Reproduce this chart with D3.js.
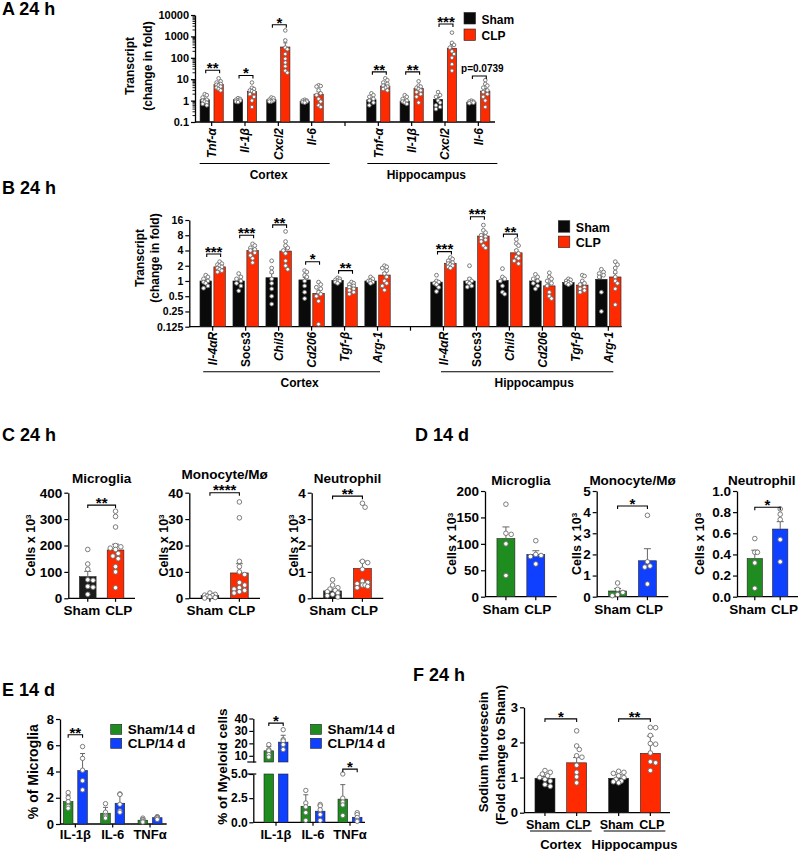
<!DOCTYPE html>
<html><head><meta charset="utf-8">
<script src="https://cdn.jsdelivr.net/npm/d3@7"></script>
<style>body{margin:0;background:#fff} text{font-family:'Liberation Sans',Arial,sans-serif;font-weight:bold}</style>
</head><body><svg id="c" width="800" height="851"></svg>
<script>
// ================= DATA =================
const groups = ["Sham","CLP"];
const regions = ["Cortex","Hippocampus"];

// ---- Panel A (24 h, log10) ----
const aGenes = ["Tnf-α","Il-1β","Cxcl2","Il-6"];
const aTicks = [0.1,1,10,100,1000,10000];
const aShamCortexMean = [1.1,1.1,1.1,0.9];
const aClpCortexMean  = [5.8,2.7,320,2.0];
const aShamCortexErr  = [0.18,0.06,0.07,0.04];
const aClpCortexErr   = [0.8,0.6,180,0.6];
const aShamHippoMean  = [1.1,0.95,1.15,0.85];
const aClpHippoMean   = [4.8,3.7,280,2.8];
const aShamHippoErr   = [0.2,0.12,0.25,0.03];
const aClpHippoErr    = [0.8,0.6,140,0.8];
const aShamCortexPts = [[2.0,1.8,1.4,1.1,1.0,0.9,0.8,0.7,0.6],[1.3,1.2,1.1,1.0,1.0,0.9,0.85],[1.4,1.3,1.1,1.0,0.9,0.9],[1.1,1.0,1.0,0.9,0.9,0.85,0.8]];
const aClpCortexPts  = [[11,8,7,6,5.5,5,4.5,4,3.5,3],[7,4,3.5,3,2.8,2.5,2,1.5,1,0.5],[1900,650,300,250,150,90,60,40,25,20],[5.2,4.8,4.5,3,2.2,1.8,1.2,0.9,0.6,0.5]];
const aShamHippoPts  = [[2.2,1.8,1.5,1.2,1.0,0.8,0.6],[1.8,1.5,1.2,1.0,0.9,0.8,0.7],[2.5,1.8,1.5,1.0,0.8,0.6,0.5,0.4],[1.0,0.9,0.9,0.85,0.8,0.75]];
const aClpHippoPts   = [[11,9,7,6,5,4.5,4,3.5,3],[8,5,4.5,4,3.5,3,2.5,2,1.5,0.8],[1500,500,400,300,200,150,100,50,25],[9,6,5,4,3,2.5,2,1.5,1,0.5]];
const aSigCortex = ["**","*","*",""];
const aBracketCortex = [26,15,3500,null];
const aSigHippo = ["**","**","***","p=0.0739"];
const aBracketHippo = [22,22,3800,14];

// ---- Panel B (24 h, log2) ----
const bGenes = ["Il-4αR","Socs3","Chil3","Cd206","Tgf-β","Arg-1"];
const bItalic = [true,false,true,true,true,true];
const bTicks = [0.125,0.25,0.5,1,2,4,8,16];
const bShamCortexMean = [1.0,1.0,1.16,1.05,1.03,1.0];
const bClpCortexMean  = [1.9,4.0,3.9,0.57,0.74,1.31];
const bShamCortexErr  = [0.07,0.08,0.25,0.13,0.04,0.05];
const bClpCortexErr   = [0.1,0.35,0.8,0.09,0.03,0.15];
const bShamHippoMean  = [0.95,1.0,1.03,1.0,0.93,1.08];
const bClpHippoMean   = [2.24,7.7,3.6,0.8,0.83,1.2];
const bShamHippoErr   = [0.07,0.15,0.13,0.07,0.03,0.18];
const bClpHippoErr    = [0.12,0.8,0.5,0.1,0.08,0.2];
const bShamCortexPts = [[1.3,1.2,1.1,1.0,0.95,0.9,0.8,0.72],[1.4,1.2,1.1,1.0,0.9,0.8,0.64],[2.5,1.8,1.5,1.1,0.9,0.7,0.5,0.35],[1.6,1.5,1.3,1.2,1.0,0.8,0.6,0.45],[1.15,1.1,1.05,1.0,1.0,0.95,0.9],[1.2,1.1,1.0,1.0,0.95,0.9]];
const bClpCortexPts  = [[2.4,2.2,2.1,2.0,1.9,1.8,1.7,1.6,1.5],[5.4,5,4.5,4.2,4,3.6,3.2,2.8,2.3],[9.5,6,5,4.5,4,3.5,2.5,2,1.7],[0.95,0.85,0.75,0.7,0.6,0.55,0.5,0.4,0.14],[0.95,0.9,0.85,0.8,0.75,0.7,0.65,0.6,0.55],[2.0,1.9,1.8,1.6,1.4,1.2,1.0,0.9,0.8,0.66]];
const bShamHippoPts  = [[1.3,1.0,0.95,0.9,0.85,0.75,0.62],[2.0,1.1,1.0,0.95,0.9,0.8,0.76],[1.75,1.2,1.1,1.0,0.8,0.6,0.55],[1.35,1.2,1.1,1.0,0.9,0.8,0.7],[1.1,1.05,1.0,0.95,0.9,0.9,0.85],[1.7,1.5,1.4,1.3,1.2,0.6,0.25]];
const bClpHippoPts   = [[2.9,2.7,2.5,2.3,2.2,2.1,2.0,1.9,1.8],[12.7,10,9,8,7.5,7,6.5,6,5,4.5],[6.6,5.5,5,4,3.5,3,2.8,2.5,2.2],[1.45,1.2,1.1,1.0,0.9,0.8,0.6,0.5,0.45],[1.3,1.25,1.0,0.9,0.85,0.75,0.7,0.65,0.6],[2.4,2.1,1.8,1.5,1.2,1.0,0.9,0.7,0.34]];
const bSigCortex = ["***","***","**","*","**",""];
const bBracketCortex = [3.4,8,12.8,2.4,1.6,null];
const bSigHippo = ["***","***","**","","",""];
const bBracketHippo = [3.8,18.6,8.4,null,null,null];

// ---- Panel C (24 h cell counts) ----
const cTitles = ["Microglia","Monocyte/Mø","Neutrophil"];
const cMax = [400,40,4];
const cTickStep = [100,10,1];
const cMeans = [[82,183],[1.0,9.6],[0.28,1.13]];
const cErrs = [[20,22],[0.3,3.5],[0.07,0.28]];
const cShamPts = [[185,130,110,70,68,45,42,15],[2,1.5,1.2,1,0.8,0.5,0.3,0.1],[0.7,0.5,0.4,0.35,0.3,0.25,0.2,0.15,0.1,0.05]];
const cClpPts = [[330,310,270,200,195,190,185,170,160,150,120,100,40],[36.5,30.5,14,12,10,9,6,5,4,3.5,3,2.5,2],[3.6,3.45,1.4,1.35,1.1,0.65,0.6,0.55,0.5,0.5,0.45,0.4]];
const cSig = ["**","****","**"];
const cBracket = [353,40,3.87];

// ---- Panel D (14 d cell counts) ----
const dTitles = ["Microglia","Monocyte/Mø","Neutrophil"];
const dMax = [200,5,1];
const dTickStep = [50,1,0.2];
const dMeans = [[110,80],[0.27,1.7],[0.36,0.64]];
const dErrs = [[22,7],[0.12,0.57],[0.08,0.07]];
const dShamPts = [[175,120,118,100,40],[0.65,0.35,0.2,0.1,0.05],[0.55,0.42,0.42,0.32,0.08]];
const dClpPts = [[106,80,78,76,62],[3.85,1.65,1.45,1.4,0.6],[0.83,0.78,0.73,0.54,0.33]];
const dSig = ["","*","*"];
const dBracket = [null,4.29,0.846];

// ---- Panel E (14 d cytokine+ cells) ----
const eCytokines = ["IL-1β","IL-6","TNFα"];
const eGroups = ["Sham/14 d","CLP/14 d"];
const e1ShamMean = [1.7,0.82,0.29];
const e1ClpMean  = [4.07,1.58,0.48];
const e1ShamErr  = [0.5,0.45,0.12];
const e1ClpErr   = [1.3,0.7,0.1];
const e1ShamPts = [[2.4,2.0,1.7,1.35,1.2],[1.55,0.9,0.65,0.55,0.45],[0.45,0.35,0.3,0.2,0.15]];
const e1ClpPts  = [[5.9,5.0,4.1,3.3,2.6],[2.3,2.25,1.5,1.0,0.9],[0.55,0.55,0.5,0.45,0.35]];
const e1Sig = ["**","",""];
const e1Bracket = [6.8,null,null];
const e2ShamMean = [14,1.65,2.4];
const e2ClpMean  = [21,1.15,0.52];
const e2ShamErr  = [3.5,1.2,1.5];
const e2ClpErr   = [5.5,0.6,0.35];
const e2ShamPts = [[19,15,14,11,9],[3.3,2.0,1.6,1.0,0.2],[5.0,2.5,2.1,1.8,0.7]];
const e2ClpPts  = [[31,23,22,19,15],[1.85,1.7,1.3,0.8,0.2],[1.0,0.8,0.5,0.2,0.1]];
const e2Sig = ["*","","*"];
const e2Bracket = [36.3,null,5.5];

// ---- Panel F (24 h sodium fluorescein) ----
const fMeans = [[0.98,1.42],[0.98,1.69]];
const fErrs = [[0.05,0.15],[0.1,0.49]];
const fShamPts = [[1.2,1.15,1.1,1.05,1.0,0.95,0.9,0.8,0.75],[1.18,1.15,1.12,1.05,1.0,0.95,0.9,0.88,0.85]];
const fClpPts  = [[2.33,1.9,1.8,1.62,1.58,1.35,1.15,1.02,0.85],[2.43,2.42,2.2,1.97,1.95,1.7,1.45,1.42,1.2]];
const fSig = ["*","**"];
const fBracket = [2.67,2.67];

// ================= STYLE / HELPERS =================
const BLACK="#0a0a0a", RED="#ff2a00", GREEN="#1f8c1f", BLUE="#1040ff";
const svg = d3.select("#c");

function text(g,x,y,s,o={}){
  const t=g.append("text").attr("x",x).attr("y",y).text(s)
    .attr("font-size",o.fs||12).attr("text-anchor",o.anchor||"start").attr("fill","#000");
  if(o.italic) t.attr("font-style","italic");
  if(o.rot) t.attr("transform",`rotate(${o.rot},${x},${y})`);
  if(o.dy) t.attr("dy",o.dy);
  return t;
}
function styleAxis(a,fs){
  a.attr("font-family",null).attr("font-size",null);
  a.selectAll("text").attr("font-size",fs).attr("font-weight","bold").attr("fill","#000");
  a.selectAll(".tick line").attr("stroke","#000").attr("stroke-width",1.2);
  a.select(".domain").attr("stroke","#000").attr("stroke-width",1.3);
}
function hline(g,x1,x2,y,w=1.3){g.append("line").attr("x1",x1).attr("x2",x2).attr("y1",y).attr("y2",y).attr("stroke","#000").attr("stroke-width",w);}
function vline(g,x,y1,y2,w=1.3,c="#000"){g.append("line").attr("x1",x).attr("x2",x).attr("y1",y1).attr("y2",y2).attr("stroke",c).attr("stroke-width",w);}
function rect(g,x,w,y1,y2,fill){
  g.append("rect").attr("x",x).attr("width",w).attr("y",Math.min(y1,y2)).attr("height",Math.abs(y2-y1))
   .attr("fill",fill).attr("stroke","#222").attr("stroke-width",0.6);
}
function errUp(g,cx,yMean,yTop,cap){
  vline(g,cx,yMean,yTop,1,"#666");
  g.append("line").attr("x1",cx-cap/2).attr("x2",cx+cap/2).attr("y1",yTop).attr("y2",yTop).attr("stroke","#666").attr("stroke-width",1);
}
function bracket(g,x1,x2,y,label,fs){
  g.append("path").attr("d",`M${x1},${y+3}V${y}H${x2}V${y+3}`).attr("fill","none").attr("stroke","#000").attr("stroke-width",1.1);
  if(label.startsWith("p")) text(g,(x1+x2)/2+3,y-4,label,{fs:10,anchor:"middle"});
  else text(g,(x1+x2)/2,y+2+fs*0.05,label,{fs:fs,anchor:"middle"});
}
// deterministic beeswarm placement of the points inside a bar
function swarm(vals,yf,cx,half,r){
  const pts=vals.map(v=>({v,y:yf(v)})).sort((a,b)=>a.y-b.y);
  const step=r*1.15, cands=[0];
  for(let k=1;k*step<=half;k++){cands.push(k*step,-k*step);}
  const placed=[];
  pts.forEach(p=>{
    let best=cx,bestD=-1;
    for(const o of cands){
      const x=cx+o; let md=Infinity;
      for(const q of placed){const d=Math.hypot(q.x-x,q.y-p.y); if(d<md) md=d;}
      if(md>=2*r*0.95){best=x;bestD=md;break;}
      if(md>bestD){bestD=md;best=x;}
    }
    p.x=best; placed.push(p);
  });
  return placed;
}
function dots(g,vals,yf,cx,half,r){
  swarm(vals,yf,cx,half,r).forEach(p=>{
    g.append("circle").attr("cx",p.x).attr("cy",p.y).attr("r",r)
     .attr("fill","#fff").attr("stroke","#6e6e6e").attr("stroke-width",0.9);
  });
}
function legend(g,x,y,labels,colors,fs,sq,gap){
  labels.forEach((l,i)=>{
    g.append("rect").attr("x",x).attr("y",y+i*gap).attr("width",sq[0]).attr("height",sq[1]).attr("fill",colors[i]).attr("stroke","#222").attr("stroke-width",0.6);
    text(g,x+sq[0]+6,y+i*gap+sq[1]-0.5,l,{fs});
  });
}

// ================= PANEL TITLES =================
text(svg,2,15,"A 24 h",{fs:18});
text(svg,2,194,"B 24 h",{fs:18});
text(svg,2,441,"C 24 h",{fs:18});
text(svg,415,441,"D 14 d",{fs:18});
text(svg,2,696,"E 14 d",{fs:18});
text(svg,413,681,"F 24 h",{fs:18});

// ================= GENE PANELS (A, B) =================
function genePanel(c){
  const g=svg.append("g");
  const y=c.y;
  const slots=[...c.genes.map(d=>"C|"+d),"gap",...c.genes.map(d=>"H|"+d)];
  const x=d3.scaleBand().domain(slots).range(c.xr);
  const bw=x.bandwidth();
  const ax=g.append("g").attr("transform",`translate(${c.axX},0)`)
    .call(d3.axisLeft(y).tickValues(c.ticks).tickFormat(c.fmt).tickSize(4).tickSizeOuter(0).tickPadding(2));
  styleAxis(ax,c.tfs);
  if(c.minor){
    c.ticks.slice(0,-1).forEach(d=>{for(let k=2;k<=9;k++){const yy=y(d*k); hline(g,c.axX-2.5,c.axX,yy,0.9);}});
  }
  hline(g,c.axX,c.axEnd,c.base);
  vline(g,x("gap")+bw/2,c.base,c.base+4,1.2);
  const data=[c.cortex,c.hippo];
  data.forEach((R,ri)=>{
    const key=ri===0?"C|":"H|";
    c.genes.forEach((gn,i)=>{
      const cx=x(key+gn)+bw/2;
      const sx=cx-c.o2, kx=cx+c.o1, w=c.o2-c.o1;
      rect(g,sx,w,y(R.sham[i]),c.base,BLACK);
      rect(g,kx,w,y(R.clp[i]),c.base,RED);
      errUp(g,sx+w/2,y(R.sham[i]),y(R.sham[i]+R.shamErr[i]),4);
      errUp(g,kx+w/2,y(R.clp[i]),y(R.clp[i]+R.clpErr[i]),4);
      dots(g,R.shamPts[i],y,sx+w/2,w/2-c.r,c.r);
      dots(g,R.clpPts[i],y,kx+w/2,w/2-c.r,c.r);
      if(R.sig[i]) bracket(g,sx+w/2+1,kx+w/2+1,y(R.br[i]),R.sig[i],15);
      vline(g,cx,c.base,c.base+4,1.2);
      text(g,cx,c.base+c.labOff,gn,{fs:12,anchor:"end",rot:-90,italic:c.italic?c.italic[i]:true,dy:"0.36em"});
    });
    const first=x(key+c.genes[0])+bw/2, last=x(key+c.genes[c.genes.length-1])+bw/2;
    const u=c.under[ri];
    hline(g,first+u[0],last+u[1],c.underY,1.1);
    text(g,(first+u[0]+last+u[1])/2+u[2],c.underY+15,regions[ri],{fs:12,anchor:"middle"});
  });
  text(g,c.yl[0],c.yl[2],"Transcript",{fs:12,anchor:"middle",rot:-90,dy:"0.36em"});
  text(g,c.yl[1],c.yl[2],"(change in fold)",{fs:12,anchor:"middle",rot:-90,dy:"0.36em"});
  legend(g,c.leg[0],c.leg[1],groups,[BLACK,RED],c.legFs,[11.5,11.5],c.leg[2]);
}

genePanel({
  genes:aGenes, y:d3.scaleLog().domain([0.1,10000]).range([122,15]), ticks:aTicks,
  fmt:d=>d3.format("~g")(d), tfs:11, minor:true,
  xr:[195,495], axX:195, axEnd:495, base:122, o1:2.3, o2:11.6, r:1.8, labOff:6,
  under:[[-12,18,4],[-11,19,-6]], underY:163.5, yl:[130,148,66],
  leg:[464,12.5,16.5], legFs:12,
  cortex:{sham:aShamCortexMean,clp:aClpCortexMean,shamErr:aShamCortexErr,clpErr:aClpCortexErr,shamPts:aShamCortexPts,clpPts:aClpCortexPts,sig:aSigCortex,br:aBracketCortex},
  hippo:{sham:aShamHippoMean,clp:aClpHippoMean,shamErr:aShamHippoErr,clpErr:aClpHippoErr,shamPts:aShamHippoPts,clpPts:aClpHippoPts,sig:aSigHippo,br:aBracketHippo}
});
genePanel({
  genes:bGenes, italic:bItalic, y:d3.scaleLog().base(2).domain([0.125,16]).range([326.7,220]), ticks:bTicks,
  fmt:d=>String(d), tfs:10.5, minor:false,
  xr:[196.2,624.8], axX:189.3, axEnd:621.7, base:326.7, o1:1.2, o2:12.7, r:1.9, labOff:5,
  under:[[-9.5,2.5,8],[-2.5,5,7]], underY:371.7, yl:[140,155,258],
  leg:[558.3,220.7,15.4], legFs:12.5,
  cortex:{sham:bShamCortexMean,clp:bClpCortexMean,shamErr:bShamCortexErr,clpErr:bClpCortexErr,shamPts:bShamCortexPts,clpPts:bClpCortexPts,sig:bSigCortex,br:bBracketCortex},
  hippo:{sham:bShamHippoMean,clp:bClpHippoMean,shamErr:bShamHippoErr,clpErr:bClpHippoErr,shamPts:bShamHippoPts,clpPts:bClpHippoPts,sig:bSigHippo,br:bBracketHippo}
});

// ================= CELL PANELS (C, D) =================
function cellPlot(c){
  const g=svg.append("g");
  const y=d3.scaleLinear().domain([0,c.max]).range([c.y0,c.yTop]);
  const x=d3.scaleBand().domain(groups).range([c.x0,c.x1]).paddingInner(0.4).paddingOuter(0.4);
  const bw=x.bandwidth();
  const ticks=d3.range(0,c.max+c.step/2,c.step);
  const ax=g.append("g").attr("transform",`translate(${c.x0},0)`)
    .call(d3.axisLeft(y).tickValues(ticks).tickFormat(c.fmt).tickSize(4).tickSizeOuter(0).tickPadding(2));
  styleAxis(ax,13.5);
  hline(g,c.x0,c.x1,c.y0);
  groups.forEach((gr,i)=>{
    const cx=x(gr)+bw/2;
    rect(g,x(gr),bw,y(c.means[i]),c.y0,c.colors[i]);
    errUp(g,cx,y(c.means[i]),y(c.means[i]+c.errs[i]),7);
    dots(g,c.pts[i],y,cx,bw/2-2.4,2.3);
    vline(g,cx,c.y0,c.y0+3.5,1.2);
  });
  const m=(x("Sham")+x("CLP")+bw)/2;
  text(g,m-1.5,c.y0+17,"Sham",{fs:13.5,anchor:"end"});
  text(g,m+3.5,c.y0+17,"CLP",{fs:13.5,anchor:"start"});
  if(c.sig) bracket(g,x("Sham")+bw/2,x("CLP")+bw/2,y(c.br),c.sig,15);
  text(g,c.titleX!=null?c.titleX:(c.x0+c.x1)/2,c.titleY,c.title,{fs:13.5,anchor:"middle"});
  const lab=text(g,c.labX,(c.y0+c.yTop)/2,"",{fs:12.5,anchor:"middle",rot:-90,dy:"0.36em"});
  lab.append("tspan").text("Cells x 10");
  lab.append("tspan").text("3").attr("font-size",8).attr("dy","-0.45em");
}
const cLayout=[{x0:68.3,x1:135,labX:30,ty:483},{x0:189.3,x1:260,labX:163.3,ty:478.5},{x0:311.7,x1:383.3,labX:293.3,ty:483}];
cTitles.forEach((t,i)=>cellPlot({title:t,titleY:cLayout[i].ty,max:cMax[i],step:cTickStep[i],fmt:d3.format("d"),
  x0:cLayout[i].x0,x1:cLayout[i].x1,labX:cLayout[i].labX,yTop:492.7,y0:598.3,
  means:cMeans[i],errs:cErrs[i],pts:[cShamPts[i],cClpPts[i]],colors:["#1c1c1c",RED],sig:cSig[i],br:cBracket[i]}));
const dLayout=[{x0:485,x1:556.7,labX:451.7,tx:null},{x0:596.7,x1:668.3,labX:576.5,tx:null},{x0:737,x1:798,labX:700,tx:761.7}];
dTitles.forEach((t,i)=>cellPlot({title:t,titleY:485,titleX:dLayout[i].tx,max:dMax[i],step:dTickStep[i],fmt:i===2?d3.format(".1f"):d3.format("d"),
  x0:dLayout[i].x0,x1:dLayout[i].x1,labX:dLayout[i].labX,yTop:491,y0:596.7,
  means:dMeans[i],errs:dErrs[i],pts:[dShamPts[i],dClpPts[i]],colors:[GREEN,BLUE],sig:dSig[i],br:dBracket[i]}));

// ================= PANEL E =================
function ePanel(c){
  const g=svg.append("g");
  const x=d3.scaleBand().domain(eCytokines).range(c.xr);
  const bw=x.bandwidth();
  const yf=c.yf;
  c.drawAxis(g);
  hline(g,c.x0,c.xEnd,c.y0);
  eCytokines.forEach((ck,i)=>{
    const cx=x(ck)+bw/2;
    const sx=cx-12, kx=cx+2.4, w=9.6;
    [[sx,c.sham[i],c.shamErr[i],c.shamPts[i],GREEN],[kx,c.clp[i],c.clpErr[i],c.clpPts[i],BLUE]].forEach(([bx,mv,ev,pv,col])=>{
      c.drawBar(g,bx,w,mv,col);
      errUp(g,bx+w/2,yf(mv),yf(mv+ev),5);
      dots(g,pv,yf,bx+w/2,w/2-2.3,2.2);
    });
    vline(g,cx,c.y0,c.y0+3.5,1.2);
    text(g,cx,839,ck,{fs:13,anchor:"middle"});
    if(c.sig[i]) bracket(g,sx+w/2,kx+w/2,c.brY(c.br[i]),c.sig[i],15);
  });
  text(g,c.labX,c.labY,c.label,{fs:c.labFs,anchor:"middle",rot:-90,dy:"0.36em"});
  legend(g,c.leg[0],c.leg[1],eGroups,[GREEN,BLUE],13.5,[11,10],14);
}
// E1
(function(){
  const y=d3.scaleLinear().domain([0,8]).range([824,719]);
  ePanel({xr:[56.7,168.7],x0:60,xEnd:166.7,y0:824,yf:y,brY:y,
    drawAxis:g=>{const a=g.append("g").attr("transform","translate(60,0)").call(d3.axisLeft(y).tickValues([0,2,4,6,8]).tickFormat(d3.format("d")).tickSize(4).tickSizeOuter(0).tickPadding(2)); styleAxis(a,13);},
    drawBar:(g,bx,w,v,col)=>rect(g,bx,w,y(v),824,col),
    sham:e1ShamMean,clp:e1ClpMean,shamErr:e1ShamErr,clpErr:e1ClpErr,shamPts:e1ShamPts,clpPts:e1ClpPts,sig:e1Sig,br:e1Bracket,
    label:"% of Microglia",labX:33.3,labY:771.7,labFs:14,leg:[110.7,724.3]});
})();
// E2 (broken axis)
(function(){
  const yT=d3.scaleLinear().domain([5,40]).range([762,718.5]);
  const yB=d3.scaleLinear().domain([0,5]).range([822.3,774]);
  const yf=v=>v>5?yT(v):yB(v);
  const x0=253.3;
  ePanel({xr:[257.5,368.5],x0:x0,xEnd:365,y0:822.3,yf:yf,
    brY:v=>v>10?yT(v):yB(v),
    drawAxis:g=>{
      const a1=g.append("g").attr("transform",`translate(${x0},0)`).call(d3.axisLeft(yT).tickValues([10,20,30,40]).tickFormat(d3.format("d")).tickSize(4).tickSizeOuter(0).tickPadding(1.5)); styleAxis(a1,12);
      const a2=g.append("g").attr("transform",`translate(${x0},0)`).call(d3.axisLeft(yB).tickValues([0,2.5,5]).tickFormat(d3.format(".1f")).tickSize(4).tickSizeOuter(0).tickPadding(1.5)); styleAxis(a2,12);
      hline(g,x0-6,x0+3,762,1.2); hline(g,x0-6,x0+3,774,1.2);
    },
    drawBar:(g,bx,w,v,col)=>{
      rect(g,bx,w,yB(Math.min(v,5)),822.3,col);
      if(v>5) rect(g,bx,w,yT(v),yT(5),col);
    },
    sham:e2ShamMean,clp:e2ClpMean,shamErr:e2ShamErr,clpErr:e2ClpErr,shamPts:e2ShamPts,clpPts:e2ClpPts,sig:e2Sig,br:e2Bracket,
    label:"% of Myeloid cells",labX:222.5,labY:766.7,labFs:13.5,leg:[310.5,724.3]});
})();

// ================= PANEL F =================
(function(){
  const g=svg.append("g");
  const y=d3.scaleLinear().domain([0,3]).range([812.7,707.3]);
  const xo=d3.scaleBand().domain(regions).range([524,671.3]).paddingInner(0.213).paddingOuter(0.106);
  const xi=d3.scaleBand().domain(groups).range([0,xo.bandwidth()]).paddingInner(0.37).paddingOuter(0.1);
  const bw=xi.bandwidth();
  const a=g.append("g").attr("transform","translate(524,0)").call(d3.axisLeft(y).tickValues([0,1,2,3]).tickFormat(d3.format("d")).tickSize(4).tickSizeOuter(0).tickPadding(2));
  styleAxis(a,13);
  hline(g,524,670,812.7);
  regions.forEach((rg,ri)=>{
    groups.forEach((gr,gi)=>{
      const bx=xo(rg)+xi(gr), cx=bx+bw/2;
      const mv=fMeans[ri][gi];
      rect(g,bx,bw,y(mv),812.7,gi===0?BLACK:RED);
      errUp(g,cx,y(mv),y(mv+fErrs[ri][gi]),7);
      dots(g,gi===0?fShamPts[ri]:fClpPts[ri],y,cx,bw/2-2.4,2.3);
      vline(g,cx,812.7,816,1.2);
      text(g,cx+(gi===0?-2:1.5),829,gr,{fs:12.5,anchor:"middle"});
    });
    const s=xo(rg)+xi("Sham")+bw/2, k=xo(rg)+xi("CLP")+bw/2;
    bracket(g,s,k,y(fBracket[ri]),fSig[ri],15);
    hline(g,s-15,k+15,831,1.1);
    text(g,(s+k)/2,849,rg,{fs:13,anchor:"middle"});
  });
  text(g,483.3,752,"Sodium fluorescein",{fs:13,anchor:"middle",rot:-90,dy:"0.36em"});
  text(g,500,755,"(Fold change to Sham)",{fs:13,anchor:"middle",rot:-90,dy:"0.36em"});
})();
</script></body></html>
